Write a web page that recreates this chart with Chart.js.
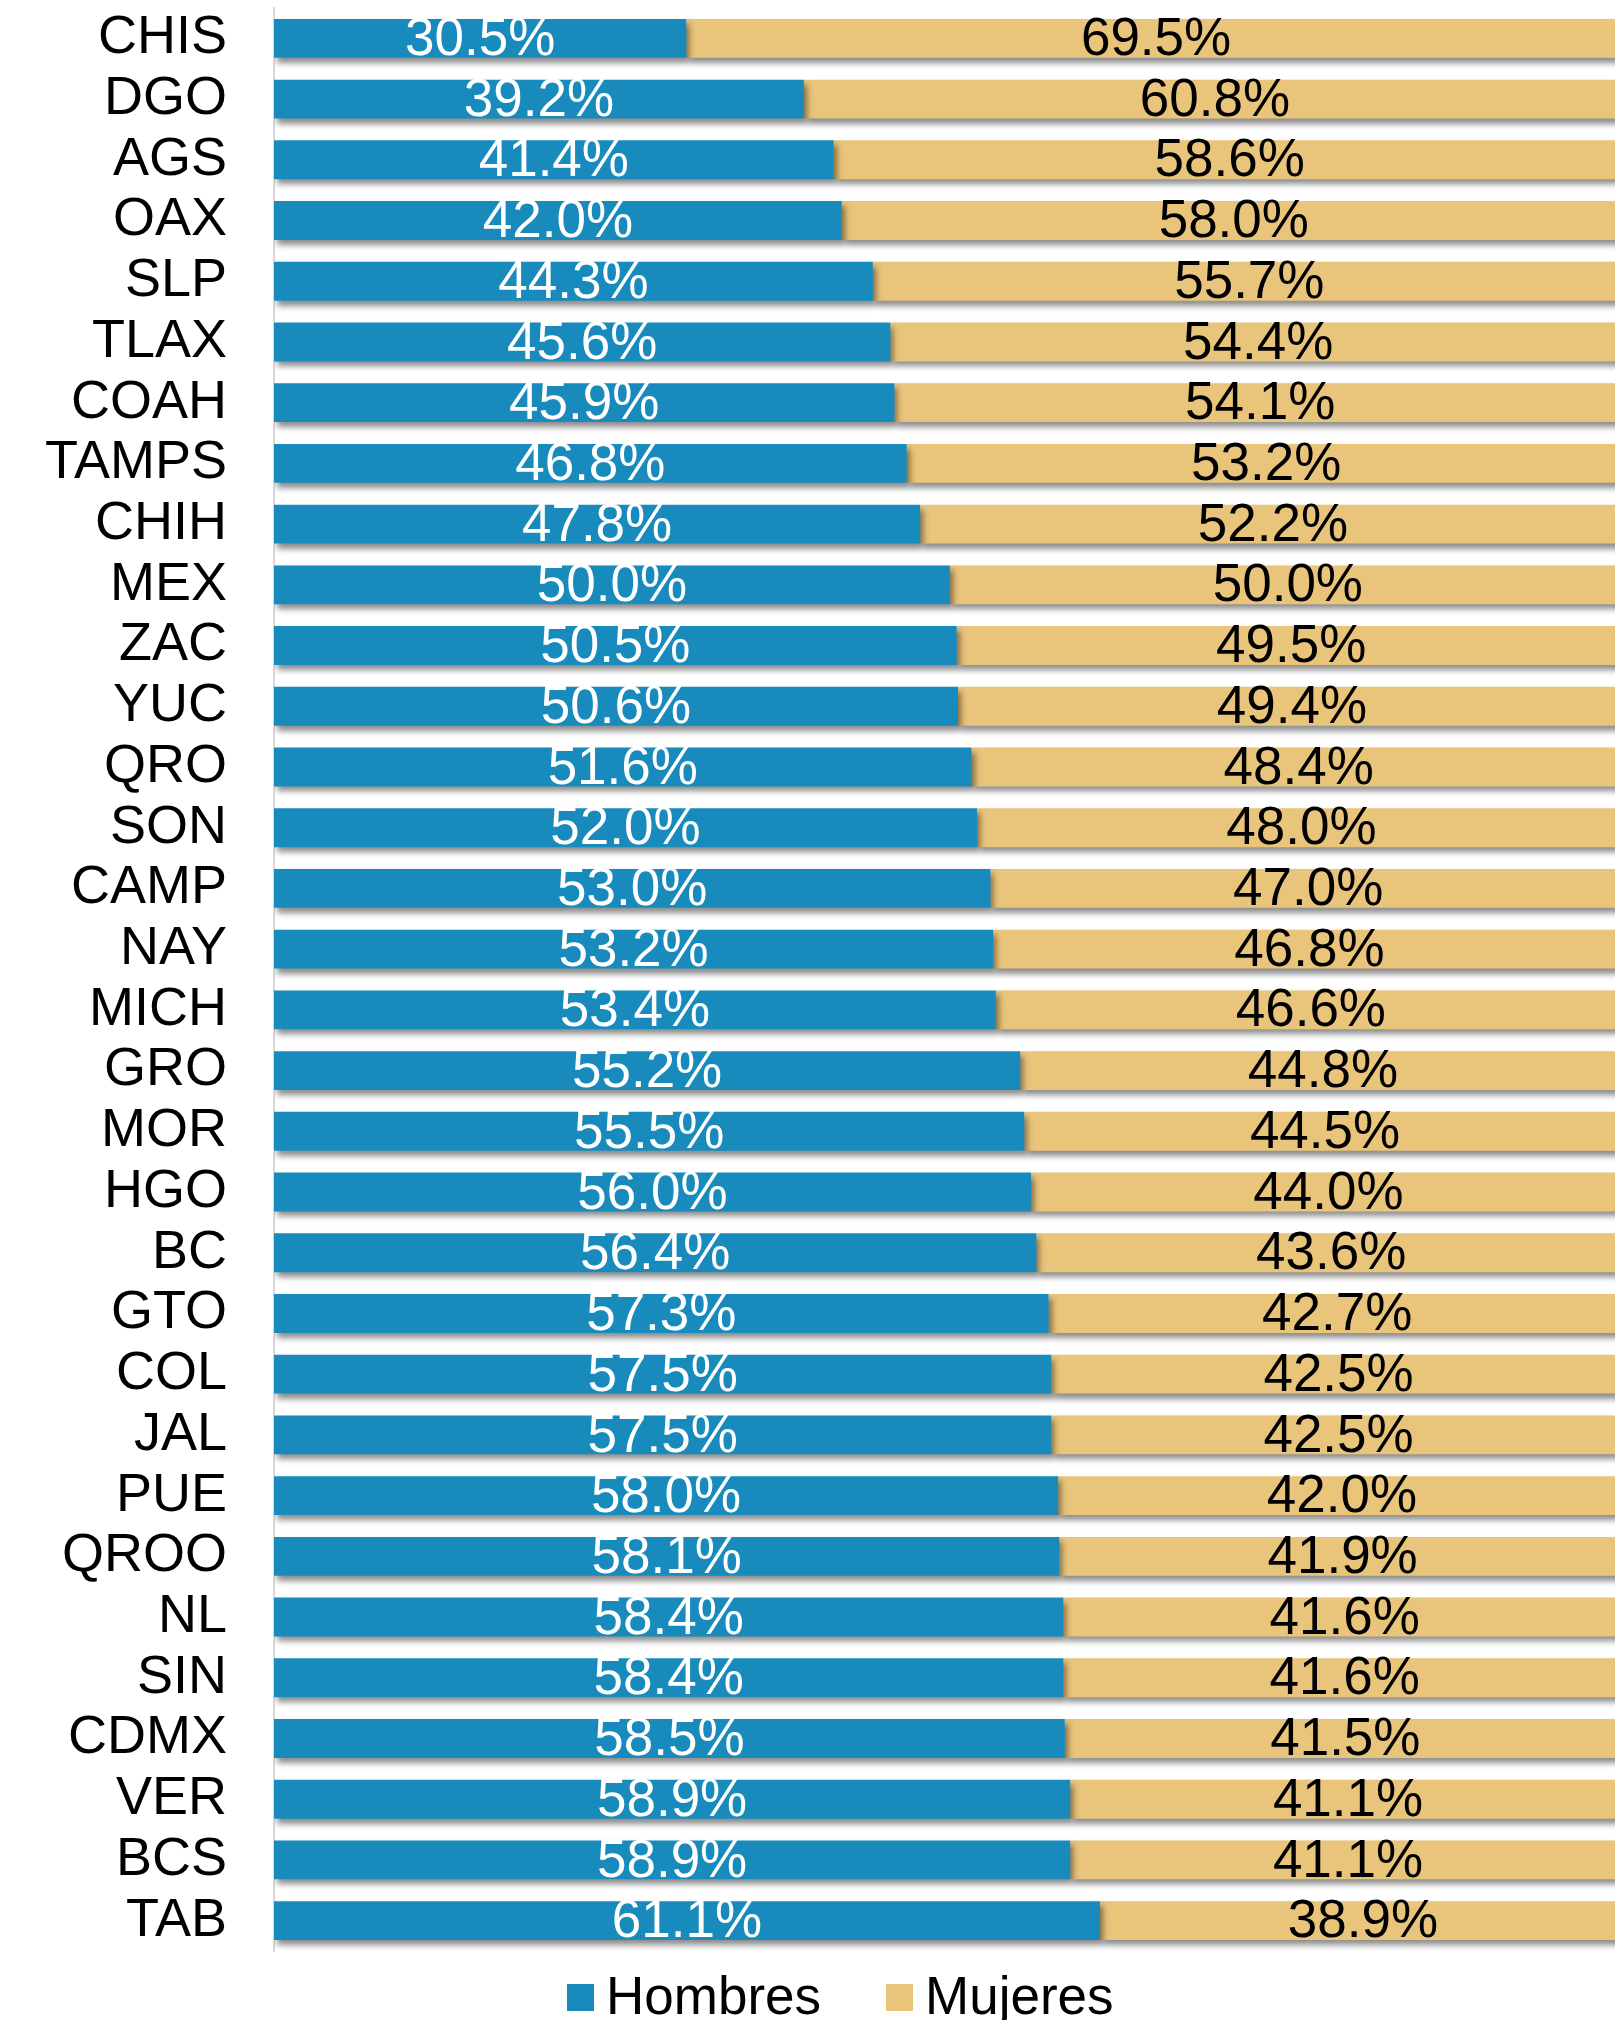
<!DOCTYPE html>
<html>
<head>
<meta charset="utf-8">
<script src="https://cdn.jsdelivr.net/npm/chart.js@4/dist/chart.umd.min.js"></script>
<style>
  html, body { margin: 0; padding: 0; background: #ffffff; }
  #wrap { width: 1615px; height: 2020px; position: relative; }
</style>
</head>
<body>
<div id="wrap"><canvas id="c"></canvas></div>
<script>
const categories = ['CHIS','DGO','AGS','OAX','SLP','TLAX','COAH','TAMPS','CHIH','MEX','ZAC','YUC','QRO','SON','CAMP','NAY','MICH','GRO','MOR','HGO','BC','GTO','COL','JAL','PUE','QROO','NL','SIN','CDMX','VER','BCS','TAB'];
const hombres = [30.5,39.2,41.4,42.0,44.3,45.6,45.9,46.8,47.8,50.0,50.5,50.6,51.6,52.0,53.0,53.2,53.4,55.2,55.5,56.0,56.4,57.3,57.5,57.5,58.0,58.1,58.4,58.4,58.5,58.9,58.9,61.1];
const mujeres = [69.5,60.8,58.6,58.0,55.7,54.4,54.1,53.2,52.2,50.0,49.5,49.4,48.4,48.0,47.0,46.8,46.6,44.8,44.5,44.0,43.6,42.7,42.5,42.5,42.0,41.9,41.6,41.6,41.5,41.1,41.1,38.9];
const seriesNames = ['Hombres','Mujeres'];
const seriesColors = ['#188BBC','#E9C47B'];
const labelColors = ['#ffffff','#000000'];

const FONT = "'Liberation Sans', Arial, sans-serif";

const shadowPlugin = {
  id: 'shadow',
  beforeDatasetsDraw(chart) {
    const ctx = chart.ctx;
    ctx.save();
    ctx.shadowColor = 'rgba(0,0,0,0.45)';
    ctx.shadowBlur = 6;
    ctx.shadowOffsetX = 3;
    ctx.shadowOffsetY = 5;
  },
  afterDatasetsDraw(chart) {
    chart.ctx.restore();
  }
};

const labelPlugin = {
  id: 'valueLabels',
  afterDatasetsDraw(chart) {
    const ctx = chart.ctx;
    ctx.save();
    ctx.font = '53px ' + FONT;
    ctx.textAlign = 'center';
    ctx.textBaseline = 'middle';
    chart.data.datasets.forEach((ds, di) => {
      const meta = chart.getDatasetMeta(di);
      ctx.fillStyle = labelColors[di];
      meta.data.forEach((bar, i) => {
        const cx = (bar.x + bar.base) / 2;
        ctx.fillText(ds.data[i].toFixed(1) + '%', cx, bar.y + 2);
      });
    });
    ctx.restore();
  }
};

const legendPlugin = {
  id: 'customLegend',
  afterDraw(chart) {
    const ctx = chart.ctx;
    ctx.save();
    ctx.font = '53px ' + FONT;
    ctx.textBaseline = 'alphabetic';
    let x = 567;
    const boxTop = 1984, box = 27, baseline = 2014, gap = 12;
    chart.data.datasets.forEach((ds, di) => {
      ctx.fillStyle = ds.backgroundColor;
      ctx.fillRect(x, boxTop, box, box);
      ctx.fillStyle = '#000000';
      ctx.fillText(ds.label, x + box + gap, baseline);
      x += box + gap + ctx.measureText(ds.label).width + 65;
    });
    ctx.restore();
  }
};

new Chart(document.getElementById('c'), {
  type: 'bar',
  data: {
    labels: categories,
    datasets: [
      { label: seriesNames[0], data: hombres, backgroundColor: seriesColors[0], borderWidth: 0 },
      { label: seriesNames[1], data: mujeres, backgroundColor: seriesColors[1], borderWidth: 0 }
    ]
  },
  options: {
    indexAxis: 'y',
    responsive: true,
    maintainAspectRatio: false,
    animation: false,
    barPercentage: 0.64,
    categoryPercentage: 1.0,
    layout: { padding: { top: 8, bottom: 69, left: 0, right: 0 } },
    plugins: {
      legend: { display: false },
      tooltip: { enabled: false }
    },
    scales: {
      x: { stacked: true, min: 0, max: 99.2, display: false },
      y: {
        stacked: true,
        grid: { display: false, drawTicks: false },
        border: { display: true, color: '#d9d9d9', width: 2 },
        ticks: { color: '#000000', font: { size: 54, family: FONT }, padding: 47, autoSkip: false },
        afterFit(scale) { scale.width = 274; scale.paddingTop = 0; scale.paddingBottom = 0; }
      }
    }
  },
  plugins: [shadowPlugin, labelPlugin, legendPlugin]
});
</script>
</body>
</html>
